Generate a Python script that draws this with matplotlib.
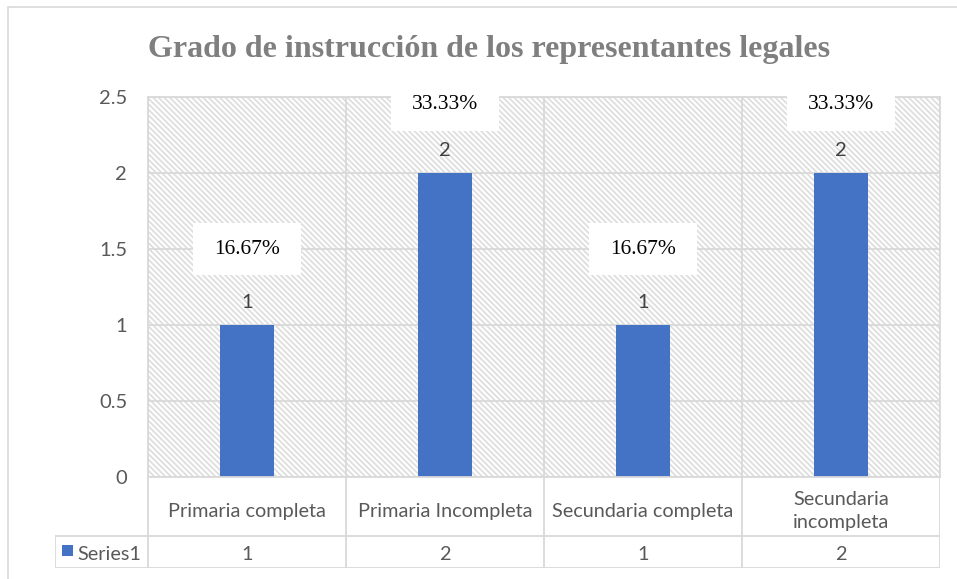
import numpy as np
import matplotlib
matplotlib.use('Agg')
import matplotlib.pyplot as plt
from matplotlib.patches import Rectangle

# data
categorias = ['Primaria completa', 'Primaria Incompleta', 'Secundaria completa', 'Secundaria\nincompleta']
valores = [1, 2, 1, 2]
porcentajes = ['16.67%', '33.33%', '16.67%', '33.33%']
serie = 'Series1'
yticks = [0, 0.5, 1, 1.5, 2, 2.5]

azul = '#4472C4'
gris_linea = '#d9d9d9'
gris_txt = '#595959'
sans = 'Lato'
serif = 'Liberation Serif'

plt.rcParams['hatch.linewidth'] = 1.3
plt.rcParams['hatch.color'] = '#dedede'

W, H = 957, 579
fig = plt.figure(figsize=(W / 100, H / 100), dpi=100)

# outer chart border
fig.add_artist(Rectangle((8 / W, -0.1), 1.2, (H - 7) / H + 0.1, transform=fig.transFigure,
                         fill=False, edgecolor=gris_linea, linewidth=1.2))

# main axes
x0, x1, ytop, ybot = 148, 940, 97, 477
ax = fig.add_axes([x0 / W, (H - ybot) / H, (x1 - x0) / W, (ybot - ytop) / H])
x = np.arange(len(categorias))
ax.set_xlim(-0.5, len(categorias) - 0.5)
ax.set_ylim(0, 2.5)

ax.add_patch(Rectangle((0, 0), 1, 1, transform=ax.transAxes, facecolor='white',
                       hatch='\\' * 6, edgecolor='#dedede', linewidth=0, zorder=0.1))
for t in yticks:
    ax.axhline(t, color=gris_linea, linewidth=1.3, zorder=0.5)
for b in np.arange(-0.5, len(categorias), 1):
    ax.axvline(b, color=gris_linea, linewidth=1.3, zorder=0.5)

ax.bar(x, valores, width=0.27, color=azul, zorder=2)

ymax = 2.5
for xi, v, p in zip(x, valores, porcentajes):
    ax.text(xi, v + 0.145, str(v), ha='center', va='center', fontsize=14.5,
            color='#404040', family=sans, zorder=3)
    centro = v + 0.5
    if centro + 0.17 > ymax:
        # label pushed inside the plot area
        arriba, alto, ty = ymax + 0.013, 0.237, ymax - 0.05
    else:
        arriba, alto, ty = centro + 0.17, 0.34, centro
    ax.add_patch(Rectangle((xi - 0.275, arriba - alto), 0.55, alto, facecolor='white',
                           edgecolor='none', zorder=3.5, clip_on=False))
    ax.text(xi, ty, p, ha='center', va='center', fontsize=15.5, color='black',
            family=serif, zorder=4)

ax.set_yticks(yticks)
ax.set_yticklabels(['0', '0.5', '1', '1.5', '2', '2.5'], fontsize=14.5, color=gris_txt, family=sans)
ax.tick_params(axis='y', length=0, pad=15)
ax.set_xticks([])
for s in ax.spines.values():
    s.set_color(gris_linea)
    s.set_linewidth(1.3)

# data table below the plot
tx0, tbot = 55, 568
tax = fig.add_axes([tx0 / W, (H - tbot) / H, (x1 - tx0) / W, (tbot - ybot) / H])
per_unit = (x1 - x0) / len(categorias)
left = -0.5 - (x0 - tx0) / per_unit
tax.set_xlim(left, len(categorias) - 0.5)
tax.set_ylim(0, tbot - ybot)
tax.axis('off')
ymid = tbot - 536
ktop = tbot - ybot
kw = dict(color=gris_linea, linewidth=1.3)
tax.plot([left, 3.5], [0, 0], **kw)
tax.plot([left, 3.5], [ymid, ymid], **kw)
tax.plot([left, left], [0, ymid], **kw)
for b in np.arange(-0.5, len(categorias), 1):
    tax.plot([b, b], [0, ktop], **kw)

for xi, c, v in zip(x, categorias, valores):
    tax.text(xi, 57, c, ha='center', va='center', fontsize=14.3, color=gris_txt,
             family=sans, linespacing=1.4)
    tax.text(xi, 13, str(v), ha='center', va='center', fontsize=14.3, color=gris_txt, family=sans)

sq = 11 / per_unit
tax.add_patch(Rectangle((left + 7 / per_unit, 12), sq, 11, facecolor=azul, edgecolor='none'))
tax.text(left + 22 / per_unit, 13, serie, ha='left', va='center', fontsize=14.3,
         color=gris_txt, family=sans)

fig.text(489 / W, (H - 49) / H,
         'Grado de instrucción de los representantes legales',
         ha='center', va='center', fontsize=23, fontweight='bold', color='#7f7f7f', family=serif)

fig.savefig('out.png', dpi=100)
